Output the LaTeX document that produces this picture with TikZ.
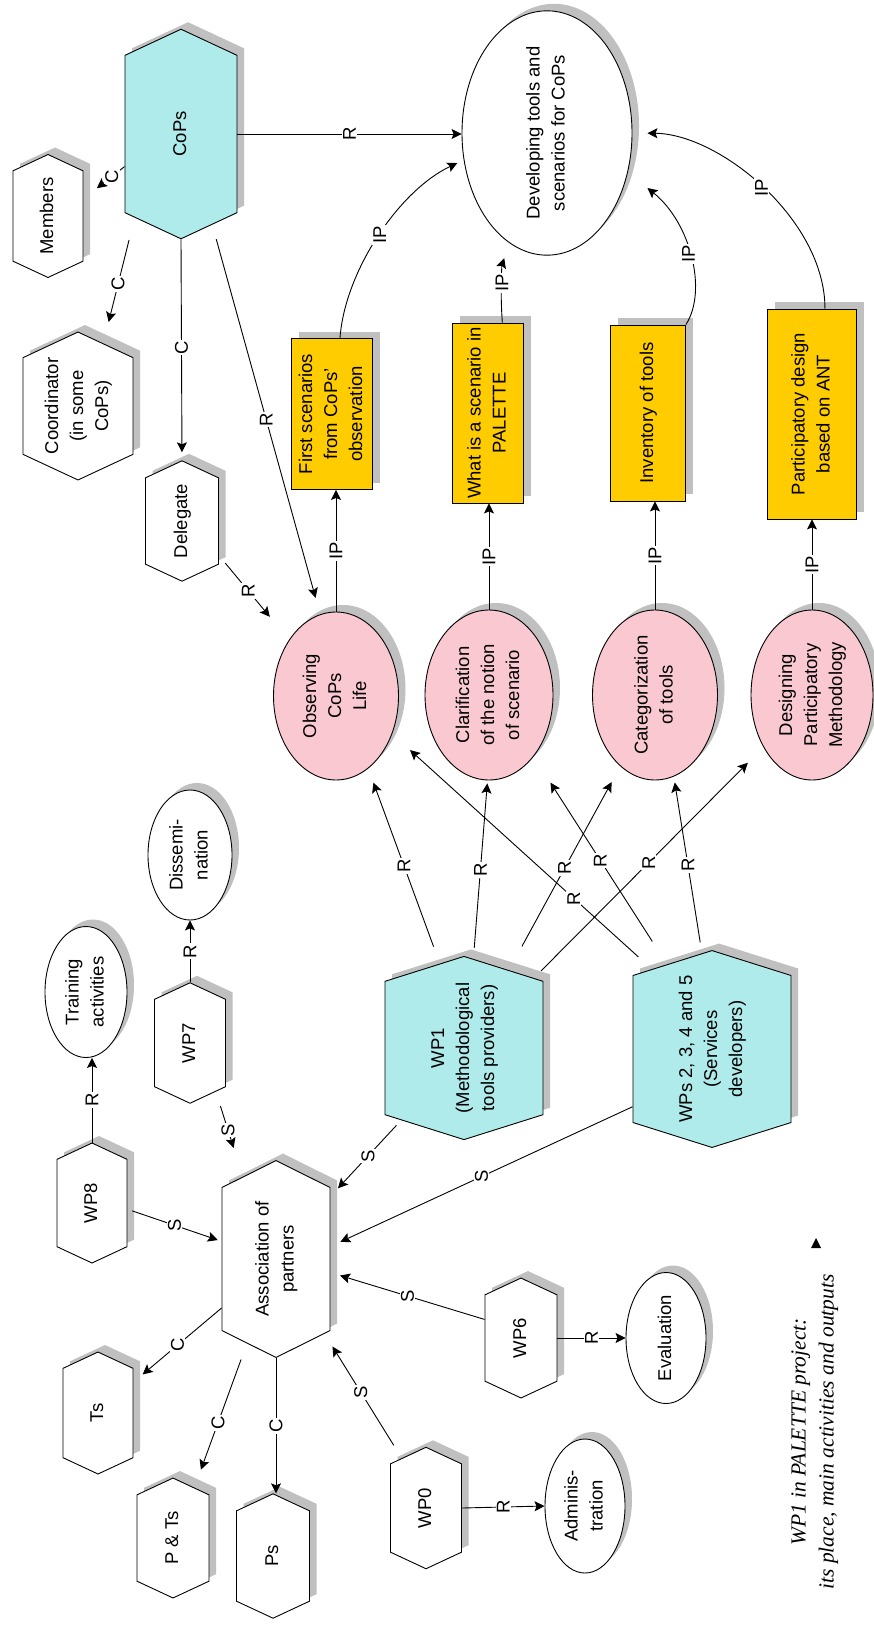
\documentclass[tikz,border=0pt]{standalone}
\usepackage{fontspec}
\setmainfont{Liberation Sans}
\newfontfamily\capfont{Liberation Serif}
\usetikzlibrary{shapes.geometric,shapes.symbols,arrows.meta,calc}
\definecolor{cyanfill}{RGB}{175,235,235}
\definecolor{pinkfill}{RGB}{250,200,208}
\definecolor{yellowfill}{RGB}{255,204,0}
\definecolor{shgray}{RGB}{192,192,192}
\newcommand{\rt}[1]{\rotatebox{90}{\begin{tabular}{@{}c@{}}#1\end{tabular}}}
\newcommand{\rl}[1]{\rotatebox{90}{#1}}
\newcommand{\nfont}{\fontsize{18.5}{25}\selectfont}
\begin{document}
\begin{tikzpicture}[x=1pt,y=-1pt,
  base/.style={draw=black, line width=0.9pt, inner sep=0pt, font=\nfont,
    preaction={fill=shgray, draw=none, transform canvas={shift={(7pt,7pt)}}}},
  hexa/.style={base, shape=signal, signal to=north and south, signal pointer angle=130, fill=white},
  hexc/.style={hexa, fill=cyanfill},
  oval/.style={base, ellipse, fill=white},
  pinkoval/.style={oval, fill=pinkfill},
  ybox/.style={base, rectangle, fill=yellowfill},
  conn/.style={line width=0.9pt, -{Stealth[length=10pt,width=10pt,inset=2pt]}},
  lbl/.style={fill=white, inner sep=1.2pt, font=\nfont}]
\fill[white] (0,0) rectangle (874,1629);
\path[use as bounding box] (0,0) rectangle (874,1629);

% nodes (hexagon minimum height = body without the two points)
\node[hexc, minimum width=112pt, minimum height=169pt] (cops) at (181,134) {\rt{CoPs}};
\node[hexa, minimum width=70pt, minimum height=102pt] (members) at (48,216) {\rt{Members}};
\node[hexa, minimum width=110pt, minimum height=91pt] (coord) at (78,406) {\rt{Coordinator\\(in some\\CoPs)}};
\node[hexa, minimum width=73pt, minimum height=98pt] (deleg) at (182,521) {\rt{Delegate}};
\node[oval, minimum width=170pt, minimum height=243pt] (dev) at (547,133) {\rt{Developing tools and\\scenarios for CoPs}};
\node[ybox, minimum width=81pt, minimum height=151pt] (first) at (332,414) {\rt{First scenarios\\from CoPs'\\observation}};
\node[ybox, minimum width=71pt, minimum height=180pt] (what) at (488,413) {\rt{What is a scenario in\\PALETTE}};
\node[ybox, minimum width=75pt, minimum height=176pt] (inv) at (648,413) {\rt{Inventory of tools}};
\node[ybox, minimum width=89pt, minimum height=210pt] (part) at (812,414) {\rt{Participatory design\\based on ANT}};
\node[pinkoval, minimum width=125pt, minimum height=168pt] (obs) at (336,696) {\rt{Observing\\CoPs\\Life}};
\node[pinkoval, minimum width=128pt, minimum height=170pt] (clar) at (489,695) {\rt{Clarification\\of the notion\\of scenario}};
\node[pinkoval, minimum width=125pt, minimum height=170pt] (cat) at (655,695) {\rt{Categorization\\of tools}};
\node[pinkoval, minimum width=122pt, minimum height=170pt] (des) at (812,695) {\rt{Designing\\Participatory\\Methodology}};
\node[hexc, signal pointer angle=145, minimum width=158pt, minimum height=157pt] (wp1) at (464,1048) {\rt{WP1\\(Methodological\\tools providers)}};
\node[hexc, signal pointer angle=145, minimum width=158pt, minimum height=158pt] (wps) at (712,1049) {\rt{WPs 2, 3, 4 and 5\\(Services\\developers)}};
\node[hexa, minimum width=71pt, minimum height=99pt] (wp7) at (190,1043) {\rt{WP7}};
\node[oval, minimum width=84pt, minimum height=130pt] (diss) at (190,855) {\rt{Dissemi-\\nation}};
\node[oval, minimum width=82pt, minimum height=131pt] (train) at (86,992) {\rt{Training\\activities}};
\node[hexa, minimum width=70pt, minimum height=99pt] (wp8) at (92,1203) {\rt{WP8}};
\node[hexa, signal pointer angle=127, minimum width=108pt, minimum height=168pt] (assoc) at (276,1259) {\rt{Association of\\partners}};
\node[hexa, minimum width=70pt, minimum height=101pt] (ts) at (98,1413) {\rt{Ts}};
\node[hexa, minimum width=72pt, minimum height=98pt] (pts) at (173,1538) {\rt{P \& Ts}};
\node[hexa, minimum width=73pt, minimum height=102pt] (ps) at (273,1556) {\rt{Ps}};
\node[hexa, minimum width=71pt, minimum height=100pt] (wp0) at (426,1508) {\rt{WP0}};
\node[oval, minimum width=80pt, minimum height=134pt] (admin) at (585,1506) {\rt{Adminis-\\tration}};
\node[hexa, minimum width=72pt, minimum height=98pt] (wp6) at (521,1338) {\rt{WP6}};
\node[oval, minimum width=80pt, minimum height=131pt] (eval) at (666,1338) {\rt{Evaluation}};
\node[font=\capfont\itshape\fontsize{21.5}{28}\selectfont, inner sep=0pt] (cap) at (814,1432) {\rt{WP1 in PALETTE project:\\its place, main activities and outputs}};
\fill (811,1248) -- (821,1248) -- (816,1238) -- cycle;

% CoPs connectors
\draw[conn, shorten >=17pt] (cops.210) -- node[lbl,pos=.31]{\rl{C}} (members.26);
\draw[conn, shorten <=23pt, shorten >=22pt] (cops.-119) -- node[lbl,pos=.53]{\rl{C}} (coord.68);
\draw[conn, shorten >=8pt] (cops.south) -- node[lbl,pos=.49]{\rl{C}} (deleg.north);
\draw[conn, shorten <=15pt, shorten >=17pt] (cops.-71) -- node[lbl]{\rl{R}} (obs.101);
\draw[conn] (cops.east) -- node[lbl]{\rl{R}} (cops.east -| dev.west);
\draw[conn, shorten <=10pt, shorten >=30pt] (deleg.-43) -- node[lbl,pos=.42]{\rl{R}} (obs.130);

% outputs to developing
\draw[conn, shorten >=7pt] (first.84) .. controls (345,270) and (400,190) .. node[lbl,pos=.5]{\rl{IP}} (dev.198);
\draw[conn, shorten >=16pt] (what.81) .. controls (500,290) and (502,265) .. node[lbl,pos=.45]{\rl{IP}} (dev.-109);
\draw[conn, shorten >=25pt] (inv.north east) .. controls (708,290) and (690,222) .. node[lbl,pos=.5]{\rl{IP}} (dev.-26);
\draw[conn, shorten >=15pt] (part.83) .. controls (825,220) and (720,134) .. node[lbl,pos=.5]{\rl{IP}} (dev.east);

% activities to outputs
\draw[conn] (obs.north) -- node[lbl]{\rl{IP}} (obs.north |- first.south);
\draw[conn] (clar.north) -- node[lbl]{\rl{IP}} (clar.north |- what.south);
\draw[conn] (cat.north) -- node[lbl]{\rl{IP}} (cat.north |- inv.south);
\draw[conn] (des.north) -- node[lbl]{\rl{IP}} (des.north |- part.south);

% WP1 / WPs to activities
\draw[conn, shorten <=18pt, shorten >=15pt] (wp1.106) -- node[lbl]{\rl{R}} (obs.-66);
\draw[conn, shorten <=11pt, shorten >=3pt] (wp1.84) -- node[lbl]{\rl{R}} (clar.-91);
\draw[conn, shorten <=27pt, shorten >=18pt] (wp1.60) -- node[lbl]{\rl{R}} (cat.-116);
\draw[conn, shorten <=10pt, shorten >=22pt] (wp1.45) -- node[lbl]{\rl{R}} (des.-133);
\draw[conn, shorten <=18pt, shorten >=24pt] (wps.127) -- node[lbl,pos=.3]{\rl{R}} (obs.-34);
\draw[conn, shorten <=27pt, shorten >=31pt] (wps.118) -- node[lbl]{\rl{R}} (clar.-54.5);
\draw[conn, shorten <=11pt, shorten >=6pt] (wps.96) -- node[lbl]{\rl{R}} (cat.-77);

% S edges to association
\draw[conn, shorten <=5pt, shorten >=4pt] (wp8.-10) -- node[lbl]{\rl{S}} (assoc.162);
\draw[conn, shorten <=15pt, shorten >=30pt] (wp7.-62) -- node[lbl,pos=.45]{\rl{S}} (assoc.112);
\draw[conn, shorten <=7pt, shorten >=11pt] (wp1.-131) -- node[lbl,pos=.47]{\rl{S}} (assoc.49);
\draw[conn, shorten >=11pt] (wps.-144) -- node[lbl]{\rl{S}} (assoc.13);
\draw[conn, shorten >=10pt] (wp6.153) -- node[lbl]{\rl{S}} (assoc.-14.5);
\draw[conn, shorten <=15pt, shorten >=15pt] (wp0.116) -- node[lbl,pos=.53]{\rl{S}} (assoc.-57);

% C edges from association
\draw[conn, shorten >=12pt] (assoc.-138) -- node[lbl]{\rl{C}} (ts.41);
\draw[conn, shorten <=17pt, shorten >=19pt] (assoc.-109) -- node[lbl,pos=.55]{\rl{C}} (pts.67);
\draw[conn] (assoc.south) -- node[lbl]{\rl{C}} (assoc.south |- ps.north);

% R edges of small WPs
\draw[conn] (wp8.north) -- node[lbl]{\rl{R}} (wp8.north |- train.south);
\draw[conn] (wp7.north) -- node[lbl]{\rl{R}} (wp7.north |- diss.south);
\draw[conn] (wp6.east) -- node[lbl]{\rl{R}} (eval.west);
\draw[conn] (wp0.east) -- node[lbl]{\rl{R}} (admin.west);
\end{tikzpicture}
\end{document}
